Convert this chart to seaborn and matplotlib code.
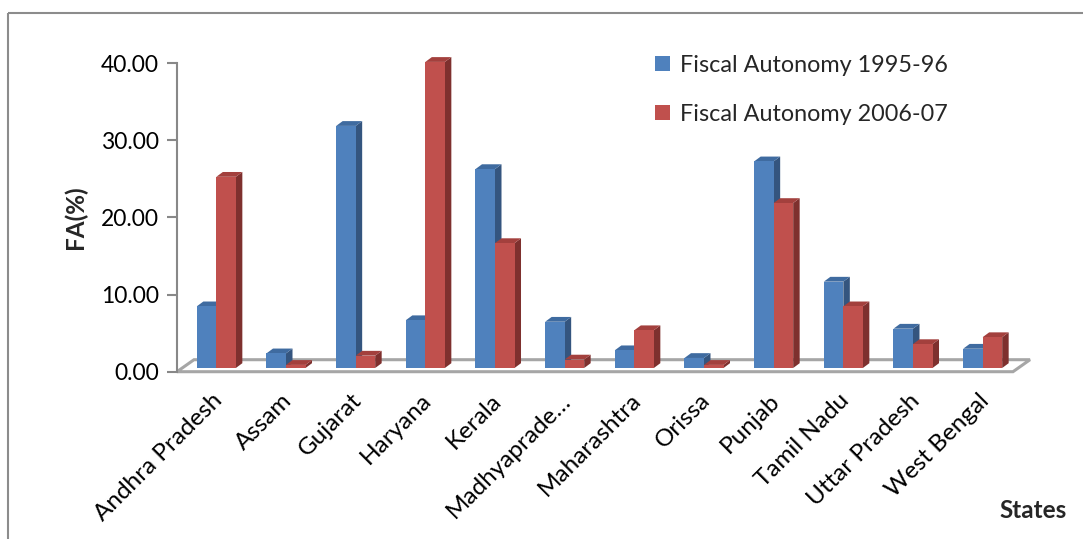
import matplotlib
matplotlib.use("Agg")
import matplotlib.pyplot as plt
from matplotlib.patches import Polygon, Rectangle
import seaborn as sns
import pandas as pd

states = ["Andhra Pradesh", "Assam", "Gujarat", "Haryana", "Kerala", "Madhyaprade…",
          "Maharashtra", "Orissa", "Punjab", "Tamil Nadu", "Uttar Pradesh", "West Bengal"]
fa_1995 = [8.0, 1.9, 31.4, 6.2, 25.8, 6.0, 2.3, 1.3, 26.8, 11.2, 5.1, 2.5]
fa_2006 = [24.8, 0.4, 1.6, 39.7, 16.2, 1.1, 4.9, 0.4, 21.4, 8.0, 3.1, 4.0]
series = ["Fiscal Autonomy 1995-96", "Fiscal Autonomy 2006-07"]
yticks = [0, 10, 20, 30, 40]

front = ["#4F81BD", "#C0504D"]
side = ["#34557F", "#7E302E"]
top = ["#3F6BA0", "#A3403D"]

df = pd.DataFrame({
    "State": states * 2,
    "FA": fa_1995 + fa_2006,
    "Series": [series[0]] * len(states) + [series[1]] * len(states),
})

sns.set_theme(style="white")
plt.rcParams["font.family"] = ["Lato", "DejaVu Sans"]

W, H = 1083, 539
fig = plt.figure(figsize=(W / 100, H / 100), dpi=100)
ax = fig.add_axes([177 / W, 1 - 371.7 / H, (1013 - 177) / W, (371.7 - 63.3) / H])

sns.barplot(data=df, x="State", y="FA", hue="Series", palette=front,
            width=0.56, saturation=1, dodge=True, ax=ax, legend=False,
            edgecolor="none", linewidth=0, zorder=3)

ax.set_xlim(-0.5, len(states) - 0.5)
ax.set_ylim(0, 40)

# pseudo-3D geometry in data units
px_x = (len(states)) / (1013 - 177)
px_y = 40 / (371.7 - 63.3)
shift_x, base = 4.5 * px_x, 3.7 * px_y      # bars stand inside the floor
depth_x, depth_y = 6.5 * px_x, 4.8 * px_y   # bar depth
floor_dx, floor_dy = 17 * px_x, 12 * px_y   # floor depth

# floor plate
floor = Polygon([(-0.5, 0), (len(states) - 0.5, 0),
                 (len(states) - 0.5 + floor_dx, floor_dy), (-0.5 + floor_dx, floor_dy)],
                closed=True, facecolor="white", edgecolor="#A6A6A6", linewidth=2.2,
                zorder=1, clip_on=False)
ax.add_patch(floor)

bars = [p for p in ax.patches if p is not floor and isinstance(p, Rectangle)]
n = len(states)
for i, bar in enumerate(bars):
    s = 0 if i < n else 1
    bar.set_x(bar.get_x() + shift_x)
    bar.set_y(base)
    bar.set_clip_on(False)
    x0, w, h = bar.get_x(), bar.get_width(), bar.get_height()
    x1, y1 = x0 + w, base + h
    z = 3 + (i % n) * 0.01 + s * 0.001
    bar.set_zorder(z + 0.0005)
    ax.add_patch(Polygon([(x1, base), (x1 + depth_x, base + depth_y),
                          (x1 + depth_x, y1 + depth_y), (x1, y1)],
                         closed=True, facecolor=side[s], edgecolor="none",
                         zorder=z, clip_on=False))
    ax.add_patch(Polygon([(x0, y1), (x1, y1), (x1 + depth_x, y1 + depth_y),
                          (x0 + depth_x, y1 + depth_y)],
                         closed=True, facecolor=top[s], edgecolor="none",
                         zorder=z, clip_on=False))

ax.set_yticks(yticks)
ax.set_yticklabels([f"{v:.2f}" for v in yticks], fontsize=16.5, color="black")
ax.set_xticks(range(n))
ax.set_xticklabels(states, rotation=45, ha="right", rotation_mode="anchor",
                   fontsize=17.5, color="black")
ax.tick_params(axis="x", length=0, pad=13)
ax.tick_params(axis="y", length=7, width=1.5, color="#888888", pad=6, left=True)

for k in ["top", "right", "bottom"]:
    ax.spines[k].set_visible(False)
ax.spines["left"].set_color("#888888")
ax.spines["left"].set_linewidth(1.5)

ax.set_xlabel("")
ax.set_ylabel("FA(%)", fontsize=17.5, fontweight="bold", labelpad=10)
fig.text(999 / W, 1 - 510 / H, "States", fontsize=17.5, fontweight="bold",
         ha="left", va="center")

handles = [Rectangle((0, 0), 1, 1, facecolor=c, edgecolor="none") for c in front]
fig.legend(handles, series, loc="upper left", bbox_to_anchor=(643 / W, 1 - 43 / H),
           frameon=False, fontsize=16.8, handlelength=0.65, handleheight=0.65,
           handletextpad=0.45, labelspacing=1.2, borderpad=0)

# chart-area frame
fig.patches.append(Rectangle((8, H - 13), W + 20, -(H + 20), transform=None,
                             fill=False, edgecolor="#8C8C8C", linewidth=1.5))

fig.savefig("out.png", dpi=100)
